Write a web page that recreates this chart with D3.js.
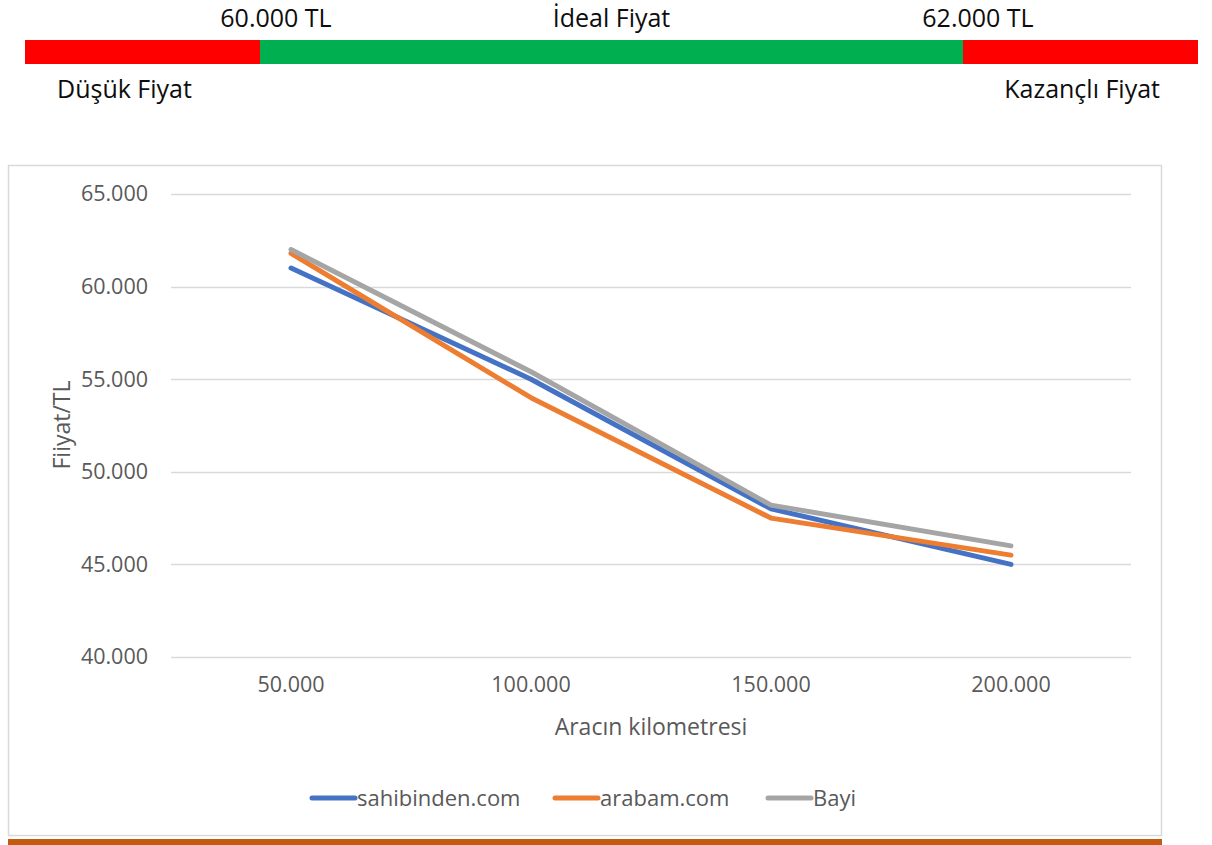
<!DOCTYPE html>
<html>
<head>
<meta charset="utf-8">
<script src="https://cdn.jsdelivr.net/npm/d3@7"></script>
<style>
  html, body { margin: 0; padding: 0; background: #fff; }
  svg { display: block; font-family: "Open Sans", "Noto Sans", sans-serif; }
</style>
</head>
<body>
<svg id="chart" width="1212" height="845"></svg>
<script>
// Price band shown above the chart
const bandSegments = ["Düşük Fiyat", "İdeal Fiyat", "Kazançlı Fiyat"];
const bandBounds = [57000, 60000, 62000, 65000];
const bandColors = ["#FF0000", "#00B050", "#FF0000"];
const bandLabels = ["60.000 TL", "62.000 TL"];

// Line chart data: price by vehicle mileage
const kilometres = [50000, 100000, 150000, 200000];
const sahibinden = [61000, 55000, 48000, 45000];
const arabam = [61800, 54000, 47500, 45500];
const bayi = [62000, 55400, 48200, 46000];
const seriesNames = ["sahibinden.com", "arabam.com", "Bayi"];
const seriesColors = ["#4472C4", "#ED7D31", "#A5A5A5"];
const yTicks = [40000, 45000, 50000, 55000, 60000, 65000];

const fmt = v => d3.format(",")(v).replace(/,/g, ".");
const svg = d3.select("#chart");

// ---- price band (piecewise scale: the middle zone is drawn wide) ----
const bandX = d3.scaleLinear().domain(bandBounds).range([25, 260, 963, 1198]);
svg.append("g").selectAll("rect")
  .data(d3.pairs(bandBounds))
  .join("rect")
  .attr("x", d => bandX(d[0]))
  .attr("width", d => bandX(d[1]) - bandX(d[0]))
  .attr("y", 40).attr("height", 24)
  .attr("fill", (d, i) => bandColors[i]);

const bandText = svg.append("g").attr("fill", "#0d0d0d").attr("font-size", 25);
bandText.append("text").attr("x", bandX(60000) + 16).attr("y", 27).attr("text-anchor", "middle").text(bandLabels[0]);
bandText.append("text").attr("x", bandX(62000) + 15).attr("y", 27).attr("text-anchor", "middle").text(bandLabels[1]);
bandText.append("text").attr("x", (bandX(60000) + bandX(62000)) / 2).attr("y", 27).attr("text-anchor", "middle").text(bandSegments[1]);
bandText.append("text").attr("x", 57).attr("y", 98).text(bandSegments[0]);
bandText.append("text").attr("x", 1160).attr("y", 98).attr("text-anchor", "end").text(bandSegments[2]);

// ---- chart frame ----
svg.append("rect").attr("x", 8.5).attr("y", 165.5).attr("width", 1153).attr("height", 670)
  .attr("fill", "#fff").attr("stroke", "#D9D9D9").attr("stroke-width", 1.5);
svg.append("rect").attr("x", 8).attr("y", 839).attr("width", 1154).attr("height", 6).attr("fill", "#C55A11");

// ---- plot ----
const x = d3.scaleBand().domain(kilometres).range([171, 1131]);
const y = d3.scaleLinear().domain([40000, 65000]).range([657, 194]);
const xc = d => x(d) + x.bandwidth() / 2;

svg.append("g").selectAll("line").data(yTicks).join("line")
  .attr("x1", 171).attr("x2", 1131)
  .attr("y1", d => Math.round(y(d)) + 0.5).attr("y2", d => Math.round(y(d)) + 0.5)
  .attr("stroke", "#D9D9D9").attr("stroke-width", 1.3);

const yAxis = svg.append("g").attr("transform", "translate(171,0)")
  .call(d3.axisLeft(y).tickValues(yTicks).tickFormat(fmt).tickSize(0).tickPadding(23));
yAxis.select(".domain").remove();
yAxis.selectAll("text").attr("fill", "#595959").attr("font-size", 21.5).attr("font-family", "Open Sans");

const xAxis = svg.append("g").attr("transform", "translate(0,657)")
  .call(d3.axisBottom(x).tickFormat(fmt).tickSize(0).tickPadding(20));
xAxis.select(".domain").remove();
xAxis.selectAll("text").attr("fill", "#595959").attr("font-size", 21.5).attr("font-family", "Open Sans");

svg.append("text").attr("x", 651).attr("y", 735).attr("text-anchor", "middle")
  .attr("fill", "#595959").attr("font-size", 23).text("Aracın kilometresi");
svg.append("text").attr("transform", "translate(70,425) rotate(-90)").attr("text-anchor", "middle")
  .attr("fill", "#595959").attr("font-size", 23).text("Fiiyat/TL");

const allSeries = [sahibinden, arabam, bayi];
const line = d3.line().x((d, i) => xc(kilometres[i])).y(d => y(d));
svg.append("g").selectAll("path").data(allSeries).join("path")
  .attr("d", d => line(d))
  .attr("fill", "none")
  .attr("stroke", (d, i) => seriesColors[i])
  .attr("stroke-width", 5)
  .attr("stroke-linecap", "round")
  .attr("stroke-linejoin", "round");

// ---- legend ----
const legendX = [310, 553, 766];
const legend = svg.append("g").selectAll("g").data(seriesNames).join("g")
  .attr("transform", (d, i) => `translate(${legendX[i]},798)`);
legend.append("line").attr("x1", 2).attr("x2", 45).attr("y1", 0).attr("y2", 0)
  .attr("stroke", (d, i) => seriesColors[i]).attr("stroke-width", 5).attr("stroke-linecap", "round");
legend.append("text").attr("x", 47).attr("y", 8).attr("fill", "#595959").attr("font-size", 22).text(d => d);
</script>
</body>
</html>
